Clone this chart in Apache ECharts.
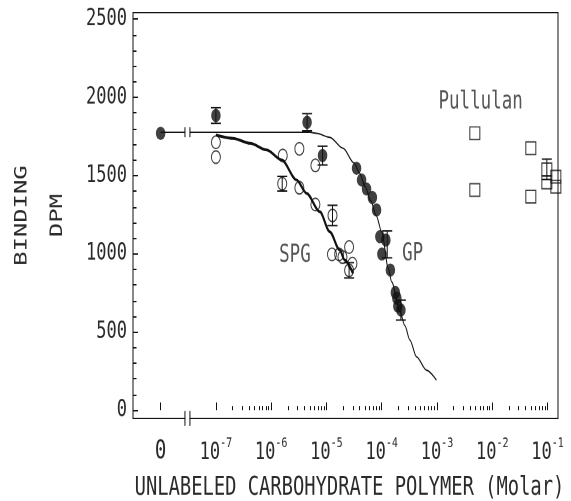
<!DOCTYPE html>
<html>
<head>
<meta charset="utf-8">
<script src="https://cdn.jsdelivr.net/npm/echarts@6/dist/echarts.min.js"></script>
<style>
  html { margin: 0; padding: 0; background: #fff; overflow: hidden; }
  body { margin: 0; padding: 0; height: 501px; background: #fff; }
  /* the original plot has tall, non-square pixels: draw flat and stretch */
  #chart { width: 571px; height: 358px; transform: scaleY(1.399441); transform-origin: 0 0; }
</style>
</head>
<body>
<div id="chart"></div>
<script>
// x is log10(molar); -8 is where the "0" (no competitor) point sits, left of the break
var xMin = -8.5, xMax = -0.81;
var yMin = -53, yMax = 2542;
var breakAt = [-7.56, -7.47];
var xMajor = [-8, -7, -6, -5, -4, -3, -2, -1];
var yMajor = [0, 500, 1000, 1500, 2000, 2500];
var yMinor = [100, 200, 300, 400, 600, 700, 800, 900, 1100, 1200, 1300, 1400,
  1600, 1700, 1800, 1900, 2100, 2200, 2300, 2400];
var xMinor = [];
for (var d = -7; d <= -2; d++) {
  for (var k = 2; k <= 9; k++) xMinor.push(d + Math.log10(k));
}

// GP (filled circles)
var gpPoints = [
  [-8, 1770], [-7.0, 1884], [-5.35, 1841], [-5.07, 1628],
  [-4.455, 1547], [-4.364, 1472], [-4.274, 1414], [-4.169, 1360], [-4.093, 1280],
  [-4.033, 1109], [-3.925, 1088], [-3.997, 998], [-3.843, 896],
  [-3.753, 752], [-3.726, 717], [-3.708, 665], [-3.653, 640]
];
var gpErr = [[-7.0, 1884, 50], [-5.35, 1841, 55], [-5.07, 1628, 60], [-3.9, 1060, 86], [-3.653, 640, 64]];
var gpPlateau = 1777;
var gpCurveLeft = [[-8, 1777], [-7.56, 1777]];
var gpCurve = [
  [-7.47, 1777], [-5.3, 1777], [-5.18, 1770], [-4.94, 1745], [-4.7, 1675], [-4.5, 1580],
  [-4.4, 1515], [-4.3, 1430], [-4.2, 1340], [-4.1, 1245], [-4.0, 1141], [-3.88, 907],
  [-3.82, 821], [-3.67, 629], [-3.58, 540], [-3.49, 448], [-3.37, 341], [-3.19, 256], [-3.01, 192]
];

// SPG (open circles)
var spgPoints = [
  [-7.0, 1713], [-7.0, 1618], [-5.79, 1628], [-5.49, 1671], [-5.8, 1448], [-5.49, 1422],
  [-5.2, 1565], [-5.2, 1315], [-4.89, 1245], [-4.9, 996], [-4.77, 996], [-4.59, 1043],
  [-4.71, 979], [-4.53, 937], [-4.59, 894]
];
var spgErr = [[-5.8, 1448, 47], [-4.89, 1245, 65], [-4.59, 894, 49]];
var spgCurve = [
  [-7.0, 1760], [-6.69, 1738], [-6.38, 1706], [-6.08, 1664], [-5.81, 1600], [-5.54, 1472],
  [-5.36, 1387], [-5.12, 1269], [-4.94, 1141], [-4.76, 1024], [-4.67, 960], [-4.52, 875]
];

// Pullulan (open squares)
var pullulanPoints = [
  [-2.315, 1771], [-2.315, 1408], [-1.302, 1675], [-1.302, 1365],
  [-1.012, 1540], [-1.012, 1456], [-0.849, 1493], [-0.849, 1429]
];
var pullulanErr = [[-1.012, 1540, 65]];

var notes = [['SPG', -5.57, 992], ['GP', -3.44, 998], ['Pullulan', -2.21, 1971]];

var font = 'DejaVu Sans Mono';
var ink = '#111';
var textInk = '#2a2a2a';

function errorBar(params, api) {
  var x = api.value(0), y = api.value(1), e = api.value(2);
  var top = api.coord([x, y + e]);
  var bot = api.coord([x, y - e]);
  var w = 5;
  var st = { stroke: ink, lineWidth: 1 };
  return {
    type: 'group',
    children: [
      { type: 'line', shape: { x1: top[0], y1: top[1], x2: bot[0], y2: bot[1] }, style: st },
      { type: 'line', shape: { x1: top[0] - w, y1: top[1], x2: top[0] + w, y2: top[1] }, style: st },
      { type: 'line', shape: { x1: bot[0] - w, y1: bot[1], x2: bot[0] + w, y2: bot[1] }, style: st }
    ]
  };
}

function breakMark(h) {
  return function (params, api) {
    var a = api.coord([api.value(0), api.value(2)]);
    var b = api.coord([api.value(1), api.value(2)]);
    var st = { stroke: ink, lineWidth: 1 };
    return {
      type: 'group',
      children: [
        { type: 'rect', shape: { x: a[0] + 0.5, y: a[1] - 1.5, width: b[0] - a[0] - 1, height: 3 }, style: { fill: '#fff' } },
        { type: 'line', shape: { x1: a[0], y1: a[1] - h, x2: a[0], y2: a[1] + h }, style: st },
        { type: 'line', shape: { x1: b[0], y1: b[1] - h, x2: b[0], y2: b[1] + h }, style: st }
      ]
    };
  };
}

var chart = echarts.init(document.getElementById('chart'), null, { devicePixelRatio: 2 });

chart.setOption({
  animation: false,
  backgroundColor: '#fff',
  grid: {
    left: 133, right: 13, top: 9, bottom: 59,
    show: true, borderColor: ink, borderWidth: 1,
    outerBoundsMode: 'none'
  },
  xAxis: [
    {
      type: 'value', min: xMin, max: xMax,
      name: 'UNLABELED CARBOHYDRATE POLYMER (Molar)',
      nameLocation: 'middle', nameGap: 40,
      nameTextStyle: { fontFamily: font, fontSize: 18.8, color: textInk, padding: [0, 0, 0, 8] },
      axisLine: { show: false },
      splitLine: { show: false },
      axisTick: { inside: true, length: 5.5, customValues: xMajor, lineStyle: { color: ink } },
      axisLabel: {
        customValues: xMajor,
        margin: 13,
        formatter: function (v) {
          return v === -8 ? '{z|0}' : '{b|10}{s|' + v + '}';
        },
        rich: {
          z: { fontFamily: font, fontSize: 19, color: textInk, lineHeight: 20, verticalAlign: 'bottom' },
          b: { fontFamily: font, fontSize: 17, color: textInk, lineHeight: 20, verticalAlign: 'bottom' },
          s: { fontFamily: font, fontSize: 10, color: textInk, lineHeight: 12, verticalAlign: 'top' }
        }
      }
    },
    {
      type: 'value', min: xMin, max: xMax, position: 'bottom',
      axisLine: { show: false },
      splitLine: { show: false },
      axisLabel: { show: false },
      axisTick: { inside: true, length: 3, customValues: xMinor, lineStyle: { color: ink } }
    }
  ],
  yAxis: [
    {
      type: 'value', min: yMin, max: yMax,
      name: 'BINDING\nDPM',
      nameLocation: 'middle', nameGap: 50, nameRotate: 90,
      nameTextStyle: { fontFamily: font, fontSize: 17, color: textInk, lineHeight: 35.5 },
      axisLine: { show: false },
      splitLine: { show: false },
      axisTick: { inside: true, length: 5, customValues: yMajor, lineStyle: { color: ink } },
      axisLabel: {
        customValues: yMajor, margin: 6, fontFamily: font, fontSize: 17, color: textInk,
        formatter: function (v) { return String(v); }
      }
    },
    {
      type: 'value', min: yMin, max: yMax, position: 'left',
      axisLine: { show: false },
      splitLine: { show: false },
      axisLabel: { show: false },
      axisTick: { inside: true, length: 3.5, customValues: yMinor, lineStyle: { color: ink } }
    }
  ],
  series: [
    {
      name: 'GP fit', type: 'line', data: gpCurveLeft, showSymbol: false,
      lineStyle: { color: ink, width: 1 }, z: 2
    },
    {
      name: 'GP fit', type: 'line', data: gpCurve, showSymbol: false,
      smooth: 0.3, smoothMonotone: 'x',
      lineStyle: { color: ink, width: 1 }, z: 2
    },
    {
      name: 'SPG fit', type: 'line', data: spgCurve, showSymbol: false,
      smooth: 0.3, smoothMonotone: 'x',
      lineStyle: { color: ink, width: 2 }, z: 2
    },
    {
      type: 'custom', renderItem: breakMark(3.6),
      data: [[breakAt[0], breakAt[1], gpPlateau]], encode: { x: [0, 1], y: 2 }, z: 3
    },
    {
      type: 'custom', renderItem: breakMark(5.4), clip: false,
      data: [[breakAt[0], breakAt[1], yMin]], encode: { x: [0, 1], y: 2 }, z: 3
    },
    {
      type: 'custom', renderItem: errorBar,
      data: gpErr.concat(spgErr, pullulanErr), encode: { x: 0, y: 1 }, z: 3
    },
    {
      name: 'SPG', type: 'scatter', data: spgPoints, symbol: 'circle', symbolSize: 9,
      itemStyle: { color: 'rgba(255,255,255,0)', borderColor: ink, borderWidth: 1 }, z: 4
    },
    {
      name: 'Pullulan', type: 'scatter', data: pullulanPoints, symbol: 'rect', symbolSize: [10, 9],
      itemStyle: { color: 'rgba(255,255,255,0)', borderColor: ink, borderWidth: 1 }, z: 4
    },
    {
      name: 'GP', type: 'scatter', data: gpPoints, symbol: 'circle', symbolSize: 9.5,
      itemStyle: { color: ink }, z: 5
    },
    {
      type: 'scatter', symbolSize: 1, itemStyle: { color: 'rgba(0,0,0,0)' }, z: 6,
      data: notes.map(function (n) { return { name: n[0], value: [n[1], n[2]] }; }),
      label: { show: true, position: 'inside', formatter: '{b}', fontFamily: font, fontSize: 17.5, color: textInk }
    }
  ]
});
</script>
</body>
</html>
